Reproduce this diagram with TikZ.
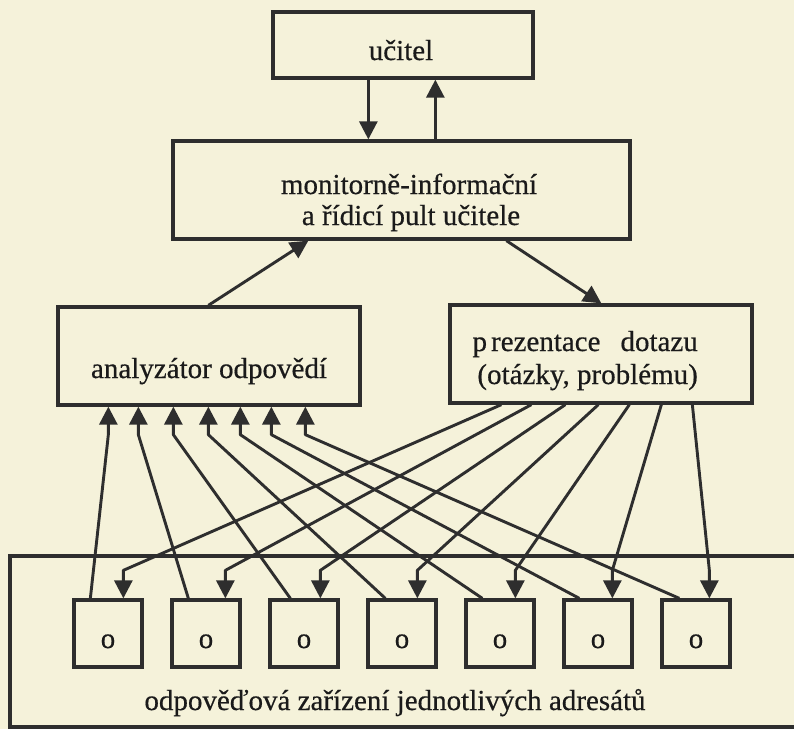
\documentclass[tikz,border=0pt]{standalone}
\usepackage{fontspec}
\setmainfont{Liberation Serif}[FakeBold=0.5]
\newfontfamily\heavyserif{Liberation Serif}[FakeBold=0.5]
\usetikzlibrary{arrows.meta,calc}
\definecolor{paper}{HTML}{F5F2DA}
\definecolor{ink}{HTML}{2E2E2E}
\definecolor{txt}{HTML}{1A1A1A}
\begin{document}
\begin{tikzpicture}[x=1pt,y=-1pt,
  box/.style={draw=ink,line width=3.3pt,inner sep=0pt,rectangle},
  conn/.style={draw=ink,line width=2.9pt,line join=round,-{Triangle[length=18pt,width=18pt]}},
  lbl/.style={text=txt,font=\heavyserif\fontsize{29}{33}\selectfont,anchor=base,inner sep=0pt}]
\fill[paper] (0,0) rectangle (794,729);
\useasboundingbox (0,0) rectangle (794,729);

\node[box,minimum width=260pt,minimum height=66pt] (ucitel) at (403,45) {};
\node[lbl] (tucitel) at (401,60) {učitel};
\node[box,minimum width=457pt,minimum height=98pt] (pult) at (401.5,190) {};
\node[lbl] (tpult1) at (409,194) {monitorně-informační};
\node[lbl] (tpult2) at (411,225) {a řídicí pult učitele};
\node[box,minimum width=302pt,minimum height=98pt] (an) at (209,356) {};
\node[lbl] (tan) at (209,378) {analyzátor odpovědí};
\node[box,minimum width=302pt,minimum height=98pt] (prez) at (601,354) {};
\node[lbl,anchor=base east] (tprez1) at (698,351) {p\kern4pt rezentace\hspace{20pt}dotazu};
\node[lbl,anchor=base east] (tprez2) at (698,384) {(otázky, problému)};
\node[box,minimum width=800pt,minimum height=171pt] (dev) at (410,641.5) {};
\node[lbl] (tdev) at (395,710) {odpověďová zařízení jednotlivých adresátů};

\foreach \i in {1,...,7} {
  \node[box,minimum width=68pt,minimum height=67pt] (s\i) at ({108+98*(\i-1)},633.5) {};
  \node[lbl] (o\i) at ({108+98*(\i-1)},648) {o};
}

\coordinate (d1) at ($(ucitel.south west)+(97,0)$);
\coordinate (u1) at ($(ucitel.south west)+(164,0)$);
\draw[conn] (d1) -- (d1 |- pult.north);
\draw[conn] (u1 |- pult.north) -- (u1);
\draw[conn] ($(an.north west)+(152,0)$) -- ($(pult.south west)+(137,0)$);
\draw[conn] ($(pult.south west)+(335,0)$) -- ($(prez.north west)+(153,0)$);

\foreach \i/\a/\s in {1/52/18,2/82/18,3/117/22,4/152/19,5/184/18,6/215/17,7/249/19} {
  \draw[conn] ($(s\i.north west)+(\s,0)$) -- ($(an.south west)+(\a,28)$) -- ($(an.south west)+(\a,0)$);
}
\foreach \i/\p/\t in {1/53/51,2/83/55,3/117/52,4/150/51,5/181/51,6/213/50,7/244/49} {
  \draw[conn] ($(prez.south west)+(\p,0)$) -- ($(s\i.north west)+(\t,-28)$) -- ($(s\i.north west)+(\t,0)$);
}
\end{tikzpicture}
\end{document}
